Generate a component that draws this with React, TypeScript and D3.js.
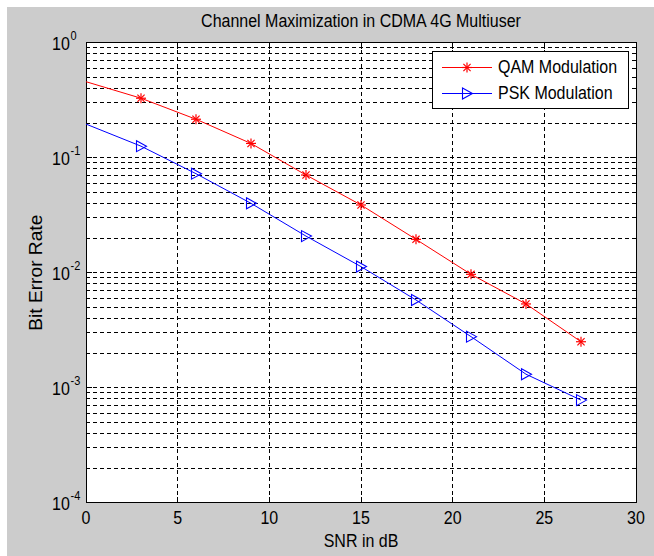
import React from 'react';
import * as d3 from 'd3';

// SNR points (dB) and measured bit error rates
const snr = [0, 3, 6, 9, 12, 15, 18, 21, 24, 27];
const qamBer = [0.458, 0.329, 0.216, 0.133, 0.0707, 0.0388, 0.0195, 0.00968, 0.00535, 0.00251];
const pskBer = [0.196, 0.126, 0.0726, 0.0401, 0.0208, 0.0113, 0.00579, 0.00278, 0.00131, 0.00078];
const xTicks = [0, 5, 10, 15, 20, 25, 30];
const yDecades = [-4, -3, -2, -1, 0];
const seriesNames = ['QAM Modulation', 'PSK Modulation'];

const W = 654;
const H = 556;
const FONT = '"Liberation Sans", Arial, Helvetica, sans-serif';
const DASH = '4,3';
const SY = 1.12; // text in the source looks a little taller than Arial

// star marker: plus and cross
const Star = ({ x, y, color }: { x: number; y: number; color: string }) => (
  <g transform={`translate(${x},${y})`} stroke={color} strokeWidth={1.2}>
    <line x1={-5} y1={0} x2={5} y2={0} />
    <line x1={0} y1={-5} x2={0} y2={5} />
    <line x1={-3.6} y1={-3.6} x2={3.6} y2={3.6} />
    <line x1={-3.6} y1={3.6} x2={3.6} y2={-3.6} />
  </g>
);

const Tri = ({ x, y, color }: { x: number; y: number; color: string }) => (
  <path
    transform={`translate(${x},${y})`}
    d="M-4.5,-5.5L5.5,0L-4.5,5.5Z"
    fill="none"
    stroke={color}
    strokeWidth={1.1}
  />
);

// text placed at its baseline, stretched a bit vertically
const T = (props: {
  x: number;
  y: number;
  size: number;
  anchor?: string;
  rotate?: number;
  len?: number;
  children: React.ReactNode;
}) => (
  <text
    transform={`translate(${props.x},${props.y})${props.rotate ? ` rotate(${props.rotate})` : ''} scale(1,${SY})`}
    fontSize={props.size}
    textAnchor={props.anchor || 'start'}
    fill="#000"
    textLength={props.len}
    lengthAdjust={props.len ? 'spacingAndGlyphs' : undefined}
  >
    {props.children}
  </text>
);

export default function App() {
  const left = 86;
  const right = 636;
  const top = 42.7;
  const bottom = 502.7;

  const x = d3.scaleLinear().domain([0, 30]).range([left, right]);
  const y = d3.scaleLog().domain([1e-4, 1]).range([bottom, top]);

  const line = d3
    .line<[number, number]>()
    .x((d) => x(d[0]))
    .y((d) => y(d[1]));

  const qamPts = snr.map((s, i) => [s, qamBer[i]] as [number, number]);
  const pskPts = snr.map((s, i) => [s, pskBer[i]] as [number, number]);

  // all y grid values (major + minor)
  const yGrid: number[] = [];
  yDecades.forEach((e) => {
    if (e === 0) {
      yGrid.push(1);
      return;
    }
    for (let m = 1; m < 10; m++) yGrid.push(m * Math.pow(10, e));
  });

  return (
    <div style={{ position: 'absolute', left: 0, top: 0 }}>
      <svg width={W} height={H} style={{ display: 'block' }} fontFamily={FONT}>
        <rect x={0} y={0} width={W} height={H} fill="#ffffff" />
        <rect x={7} y={7} width={W - 7} height={H - 7} fill="#cccccc" />
        <rect x={left} y={top} width={right - left} height={bottom - top} fill="#ffffff" />

        {/* grid */}
        <g stroke="#000" strokeWidth={1} strokeDasharray={DASH} shapeRendering="crispEdges">
          {yGrid.map((v, i) => (
            <line key={'gy' + i} x1={left} x2={right} y1={y(v)} y2={y(v)} />
          ))}
          {xTicks.map((t) => (
            <line key={'gx' + t} x1={x(t)} x2={x(t)} y1={top} y2={bottom} />
          ))}
        </g>

        {/* ticks */}
        <g stroke="#000" strokeWidth={1} shapeRendering="crispEdges">
          {xTicks.map((t) => (
            <g key={'tx' + t}>
              <line x1={x(t)} x2={x(t)} y1={bottom} y2={bottom - 6} />
              <line x1={x(t)} x2={x(t)} y1={top} y2={top + 6} />
            </g>
          ))}
          {yGrid.map((v, i) => {
            const major = Math.abs(Math.log10(v) - Math.round(Math.log10(v))) < 1e-9;
            const len = major ? 6 : 3;
            return (
              <g key={'ty' + i}>
                <line x1={left} x2={left + len} y1={y(v)} y2={y(v)} />
                <line x1={right} x2={right - len} y1={y(v)} y2={y(v)} />
              </g>
            );
          })}
        </g>

        <rect
          x={left}
          y={top}
          width={right - left}
          height={bottom - top}
          fill="none"
          stroke="#000"
          strokeWidth={1}
          shapeRendering="crispEdges"
        />

        {/* series */}
        <path d={line(qamPts) || ''} fill="none" stroke="#ff0000" strokeWidth={1} />
        <path d={line(pskPts) || ''} fill="none" stroke="#0000ff" strokeWidth={1} />
        {qamPts.slice(1).map((p, i) => (
          <Star key={'q' + i} x={x(p[0])} y={y(p[1])} color="#ff0000" />
        ))}
        {pskPts.slice(1).map((p, i) => (
          <Tri key={'p' + i} x={x(p[0])} y={y(p[1])} color="#0000ff" />
        ))}

        {/* x tick labels */}
        {xTicks.map((t) => (
          <T key={'lx' + t} x={x(t)} y={bottom + 21} size={16} anchor="middle">
            {t}
          </T>
        ))}

        {/* y tick labels */}
        {yDecades.map((e) => (
          <g key={'ly' + e}>
            <T x={52} y={y(Math.pow(10, e)) + 7} size={16}>
              10
            </T>
            <T x={70.5} y={y(Math.pow(10, e)) - 3} size={11}>
              {e === 0 ? '0' : '-' + Math.abs(e)}
            </T>
          </g>
        ))}

        {/* titles */}
        <T x={(left + right) / 2} y={27} size={16} anchor="middle">
          Channel Maximization in CDMA 4G Multiuser
        </T>
        <T x={(left + right) / 2} y={547} size={16} anchor="middle">
          SNR in dB
        </T>
        <T x={42} y={(top + bottom) / 2} size={16} anchor="middle" rotate={-90} len={116}>
          Bit Error Rate
        </T>

        {/* legend */}
        <g>
          <rect x={432.5} y={51.5} width={196} height={57} fill="#ffffff" stroke="#000" strokeWidth={1} />
          <line x1={442} x2={492} y1={67.5} y2={67.5} stroke="#ff0000" strokeWidth={1} />
          <Star x={467} y={67.5} color="#ff0000" />
          <T x={498} y={73} size={16}>
            {seriesNames[0]}
          </T>
          <line x1={442} x2={492} y1={93.5} y2={93.5} stroke="#0000ff" strokeWidth={1} />
          <Tri x={467} y={93.5} color="#0000ff" />
          <T x={498} y={99} size={16}>
            {seriesNames[1]}
          </T>
        </g>
      </svg>
    </div>
  );
}
